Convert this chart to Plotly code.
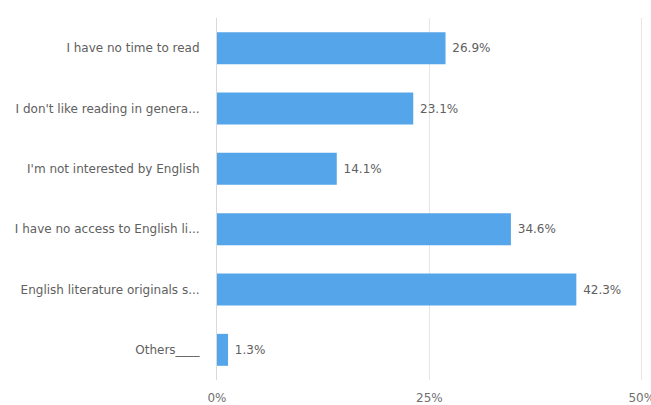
import plotly.graph_objects as go

categories = [
    "I have no time to read",
    "I don't like reading in genera...",
    "I'm not interested by English",
    "I have no access to English li...",
    "English literature originals s...",
    "Others____",
]
values = [26.9, 23.1, 14.1, 34.6, 42.3, 1.3]
labels = ["26.9%", "23.1%", "14.1%", "34.6%", "42.3%", "1.3%"]
tick_vals = [0, 25, 50]
tick_text = ["0%", "25%", "50%"]

fig = go.Figure(go.Bar(
    x=values,
    y=categories,
    orientation="h",
    width=0.53,
    marker=dict(color="#55A5EA", line=dict(width=0)),
    text=[" " + t for t in labels],
    textposition="outside",
    cliponaxis=False,
    textfont=dict(family="DejaVu Sans", size=12, color="#606060"),
    hoverinfo="skip",
))

fig.update_layout(
    width=651,
    height=405,
    margin=dict(l=217, r=5, t=18, b=25, autoexpand=False),
    paper_bgcolor="white",
    plot_bgcolor="white",
    showlegend=False,
    font=dict(family="DejaVu Sans", size=12, color="#606060"),
)
fig.update_xaxes(
    range=[0, 50.5],
    tickvals=tick_vals,
    ticktext=tick_text,
    showgrid=True,
    gridcolor="#E6E6E6",
    gridwidth=1,
    zeroline=False,
    showline=False,
    automargin=False,
    tickfont=dict(family="DejaVu Sans", size=12, color="#707070"),
    ticklabeloverflow="allow",
    ticklabelstandoff=9,
    ticks="",
    fixedrange=True,
)
fig.update_yaxes(
    categoryorder="array",
    categoryarray=categories[::-1],
    autorange=False,
    range=[-0.5, len(categories) - 0.5],
    showline=True,
    linecolor="#D9D9D9",
    linewidth=1,
    showgrid=False,
    automargin=False,
    ticks="",
    ticklabelstandoff=14,
    tickfont=dict(family="DejaVu Sans", size=12, color="#606060"),
    fixedrange=True,
)

fig.write_html("out.html")
